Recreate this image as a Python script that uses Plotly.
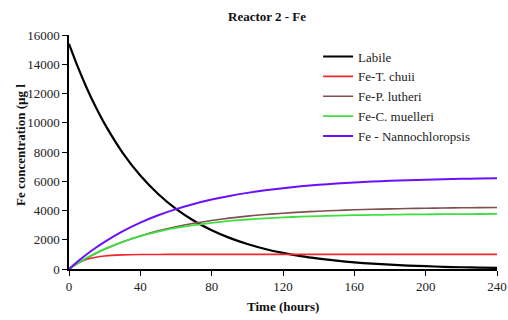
import plotly.graph_objects as go

# Time (hours)
time_h = [0, 5, 10, 15, 20, 30, 40, 50, 60, 70, 80, 90, 100, 110, 120,
          130, 140, 150, 160, 170, 180, 190, 200, 210, 220, 230, 240]

# Fe concentration (ug l-1)
labile = [15400, 13800, 12360, 11070, 9920, 7960, 6390, 5130, 4110, 3300, 2650, 2130,
          1710, 1370, 1100, 880, 710, 570, 455, 365, 295, 235, 190, 150, 120, 100, 80]
fe_t_chuii = [0, 423, 667, 808, 889, 963, 988, 996, 999, 1000, 1000, 1000, 1000, 1000,
              1000, 1000, 1000, 1000, 1000, 1000, 1000, 1000, 1000, 1000, 1000, 1000, 1000]
fe_p_lutheri = [0, 385, 735, 1054, 1343, 1847, 2262, 2606, 2891, 3126, 3321, 3481, 3614,
                3724, 3815, 3890, 3953, 4004, 4047, 4082, 4111, 4135, 4155, 4171, 4185,
                4196, 4205]
fe_c_muelleri = [0, 404, 765, 1087, 1375, 1861, 2249, 2559, 2806, 3003, 3160, 3286, 3386,
                 3465, 3529, 3580, 3620, 3653, 3678, 3699, 3715, 3729, 3739, 3747, 3754,
                 3759, 3763]
fe_nanno = [0, 528, 1011, 1455, 1860, 2573, 3171, 3674, 4096, 4449, 4746, 4996, 5205,
            5381, 5528, 5652, 5756, 5844, 5917, 5979, 6030, 6073, 6110, 6140, 6166,
            6187, 6205]

x_ticks = [0, 40, 80, 120, 160, 200, 240]
y_ticks = [0, 2000, 4000, 6000, 8000, 10000, 12000, 14000, 16000]
y_tick_labels = ["0", "2000", "4000", "6000", "8000", "10000", "12000", "14000", "16000"]

series = [
    ("Labile", labile, "#000000", 2.2),
    ("Fe-T. chuii", fe_t_chuii, "#f0282d", 1.6),
    ("Fe-P. lutheri", fe_p_lutheri, "#7d5050", 1.6),
    ("Fe-C. muelleri", fe_c_muelleri, "#3ee03e", 1.8),
    ("Fe - Nannochloropsis", fe_nanno, "#6a10ff", 2.0),
]

FONT = "Liberation Serif, Times New Roman, serif"
TXT = "#222222"

fig = go.Figure()
for name, vals, color, w in series:
    fig.add_trace(go.Scatter(x=time_h, y=vals, mode="lines", name=name,
                             line=dict(color=color, width=w, shape="spline", smoothing=0.6)))

fig.update_layout(
    width=508, height=320,
    margin=dict(l=69, r=11, t=35, b=51),
    paper_bgcolor="white", plot_bgcolor="white",
    font=dict(family=FONT, size=13, color=TXT),
    showlegend=True,
    legend=dict(x=0.582, y=0.972, xanchor="left", yanchor="top",
                bgcolor="rgba(0,0,0,0)",
                font=dict(family=FONT, size=13, color=TXT, weight="normal"),
                tracegroupgap=0),
    xaxis=dict(range=[0, 240], tickvals=x_ticks, showline=True, linecolor="black",
               linewidth=1.5, ticks="outside", ticklen=5, tickcolor="black",
               showgrid=False, zeroline=False, automargin=False,
               tickfont=dict(family=FONT, size=13, color=TXT)),
    yaxis=dict(range=[0, 16000], tickvals=y_ticks, ticktext=y_tick_labels, showline=True,
               linecolor="black", linewidth=1.5, ticks="outside", ticklen=5,
               tickcolor="black", showgrid=False, zeroline=False, automargin=False,
               tickfont=dict(family=FONT, size=13, color=TXT)),
    annotations=[
        dict(text="<b>Reactor 2 - Fe</b>", x=(267 - 69) / 428, y=(269 - 16) / 234,
             xref="paper", yref="paper", xanchor="center", yanchor="middle",
             showarrow=False, font=dict(family=FONT, size=13, color="#111111")),
        dict(text="<b>Time (hours)</b>", x=0.5, y=-0.16, xref="paper", yref="paper",
             xanchor="center", yanchor="middle", showarrow=False,
             font=dict(family=FONT, size=13, color="#111111")),
        dict(text="<b>Fe concentration (µg l</b>", x=-0.112, y=0.53, xref="paper",
             yref="paper", xanchor="center", yanchor="middle", textangle=-90,
             showarrow=False, font=dict(family=FONT, size=13, color="#111111")),
    ],
)

fig.write_html("out.html", config={"displayModeBar": False},
               post_script="document.body.style.margin='0';document.body.style.padding='0';")
